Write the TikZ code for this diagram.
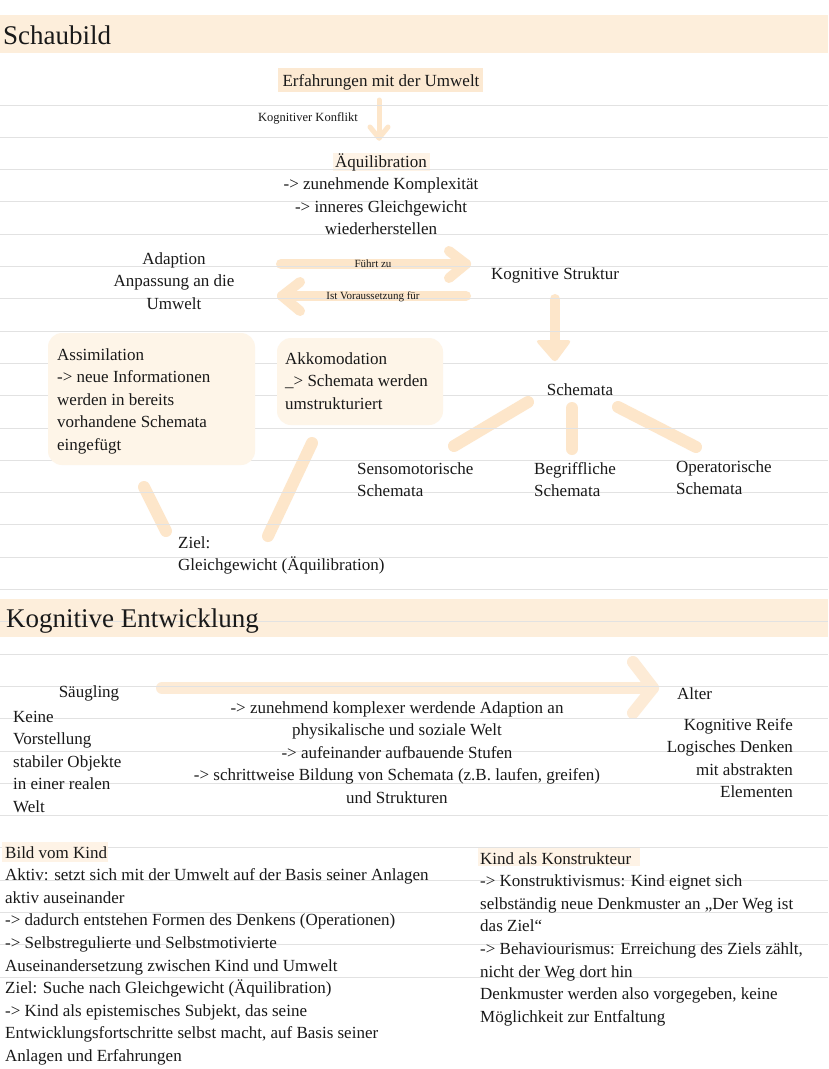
\documentclass[tikz,border=0pt]{standalone}
\usepackage{fontspec}
\setmainfont{Liberation Serif}
\definecolor{band}{HTML}{FDEEDB}
\definecolor{hilite}{HTML}{FCE9D2}
\definecolor{faint}{HTML}{FEF3E6}
\definecolor{arrowc}{HTML}{FDE6CA}
\definecolor{bigarrow}{HTML}{FDEBD6}
\definecolor{boxc}{HTML}{FEF5E8}
\definecolor{rulec}{HTML}{E2E2E2}
\tikzset{
  txt/.style={font=\fontsize{17}{22.6}\selectfont, inner sep=0pt, text=black!90},
  head/.style={font=\fontsize{27}{30}\selectfont, inner sep=0pt, text=black!90},
  small/.style={font=\fontsize{12.5}{14}\selectfont, inner sep=0pt, text=black!90},
  tiny/.style={font=\fontsize{11}{13}\selectfont, inner sep=0pt, text=black!90},
  rule/.style={rulec, line width=1pt},
  stroke/.style={arrowc, line cap=round, line join=round},
  bubble/.style={fill=boxc, draw=none, rounded corners=14pt}
}
\begin{document}
\begin{tikzpicture}[x=1pt,y=-1pt]
\useasboundingbox (0,0) rectangle (828,1069);
\fill[white] (0,0) rectangle (828,1069);
% header bands
\fill[band] (0,15) rectangle (828,53);
\fill[band] (0,599) rectangle (828,637);
% highlights
\fill[hilite] (278,68) rectangle (483,92);
\fill[faint] (333,153) rectangle (430,171);
\fill[faint] (478,847) rectangle (640,866);
% arrows and strokes
\coordinate (e1) at (379,100); \coordinate (e2) at (379,138);
\draw[stroke, line width=5pt] (e1) -- (e2);
\draw[stroke, line width=5pt] (370,127) -- (e2) -- (388,127);
\coordinate (f1) at (281,264); \coordinate (f2) at (466,264);
\draw[stroke, line width=10pt] (f1) -- (f2);
\draw[stroke, line width=10pt] (449,251) -- (f2) -- (449,278);
\coordinate (v1) at (466,296); \coordinate (v2) at (282,296);
\draw[stroke, line width=10pt] (v1) -- (v2);
\draw[stroke, line width=10pt] (300,282) -- (v2) -- (300,311);
\coordinate (k1) at (555,299); \coordinate (k2) at (555,363);
\draw[stroke, line width=10pt] (k1) -- (555,345);
\fill[arrowc, rounded corners=4pt] (535,340) -- (572,340) -- (k2) -- cycle;
\coordinate (s0) at (528,402); \coordinate (s1) at (454,446);
\coordinate (s2a) at (572,408); \coordinate (s2) at (572,449);
\coordinate (s3a) at (618,407); \coordinate (s3) at (696,447);
\draw[stroke, line width=12pt] (s0) -- (s1);
\draw[stroke, line width=12pt] (s2a) -- (s2);
\draw[stroke, line width=12pt] (s3a) -- (s3);
\coordinate (z1a) at (144,487); \coordinate (z1) at (166,531);
\coordinate (z2a) at (312,443); \coordinate (z2) at (268,536);
\draw[stroke, line width=12pt] (z1a) -- (z1);
\draw[stroke, line width=12pt] (z2a) -- (z2);
\coordinate (b1) at (162,688); \coordinate (b2) at (653,688);
\draw[stroke, bigarrow, line width=12pt] (b1) -- (b2);
\draw[stroke, bigarrow, line width=12pt] (633,662) -- (b2) -- (633,713);
% ruled lines
\foreach \i in {0,...,27} \draw[rule] (0,{105+\i*32.3}) -- (828,{105+\i*32.3});
% covering highlight and boxes
\fill[faint] (2,842) rectangle (108,862);
\fill[bubble] (48,333) rectangle (255,465);
\fill[bubble] (277,338) rectangle (443,425);
% texts (multi-line nodes: base anchor = last line)
\node[head, anchor=base west] (schaubild) at (3,44) {Schaubild};
\node[txt, anchor=base] (erf) at (381,86) {Erfahrungen mit der Umwelt};
\node[small, anchor=base west] (konflikt) at (258,121) {Kognitiver Konflikt};
\node[txt, anchor=base, align=center] (aequi) at (381,234.8) {Äquilibration\\-> zunehmende Komplexität\\-> inneres Gleichgewicht\\wiederherstellen};
\node[txt, anchor=base, align=center] (adaption) at (174,309.2) {Adaption\\Anpassung an die\\Umwelt};
\node[tiny, anchor=base] (fuehrt) at (373,267) {Führt zu};
\node[tiny, anchor=base] (voraus) at (373,299) {Ist Voraussetzung für};
\node[txt, anchor=base] (struktur) at (555,279) {Kognitive Struktur};
\node[txt, anchor=base west, align=left] (assim) at (57,450.4) {Assimilation\\-> neue Informationen\\werden in bereits\\vorhandene Schemata\\eingefügt};
\node[txt, anchor=base west, align=left] (akko) at (285,409.2) {Akkomodation\\\_> Schemata werden\\umstrukturiert};
\node[txt, anchor=base] (schemata) at (580,395) {Schemata};
\node[txt, anchor=base west, align=left] (senso) at (357,496.6) {Sensomotorische\\Schemata};
\node[txt, anchor=base west, align=left] (begriff) at (534,496.6) {Begriffliche\\Schemata};
\node[txt, anchor=base west, align=left] (opera) at (676,494.6) {Operatorische\\Schemata};
\node[txt, anchor=base west, align=left] (ziel) at (178,570.6) {Ziel:\\Gleichgewicht (Äquilibration)};
\node[head, anchor=base west] (kogent) at (6,627) {Kognitive Entwicklung};
\node[txt, anchor=base] (saeugling) at (89,697) {Säugling};
\node[txt, anchor=base west, align=left] (keine) at (13,812.4) {Keine\\Vorstellung\\stabiler Objekte\\in einer realen\\Welt};
\node[txt, anchor=base, align=center] (mitte) at (397,803.4) {-> zunehmend komplexer werdende Adaption an\\physikalische und soziale Welt\\-> aufeinander aufbauende Stufen\\-> schrittweise Bildung von Schemata (z.B. laufen, greifen)\\und Strukturen};
\node[txt, anchor=base west] (alter) at (677,699) {Alter};
\node[txt, anchor=base east, align=right] (reife) at (793,797.8) {Kognitive Reife\\Logisches Denken\\mit abstrakten\\Elementen};
\node[txt, anchor=base west, align=left] (bild) at (5,1061.4) {Bild vom Kind\\Aktiv: setzt sich mit der Umwelt auf der Basis seiner Anlagen\\aktiv auseinander\\-> dadurch entstehen Formen des Denkens (Operationen)\\-> Selbstregulierte und Selbstmotivierte\\Auseinandersetzung zwischen Kind und Umwelt\\Ziel: Suche nach Gleichgewicht (Äquilibration)\\-> Kind als epistemisches Subjekt, das seine\\Entwicklungsfortschritte selbst macht, auf Basis seiner\\Anlagen und Erfahrungen};
\node[txt, anchor=base west, align=left] (konstr) at (480,1022.2) {Kind als Konstrukteur\\-> Konstruktivismus: Kind eignet sich\\selbständig neue Denkmuster an „Der Weg ist\\das Ziel“\\-> Behaviourismus: Erreichung des Ziels zählt,\\nicht der Weg dort hin\\Denkmuster werden also vorgegeben, keine\\Möglichkeit zur Entfaltung};
\end{tikzpicture}
\end{document}
